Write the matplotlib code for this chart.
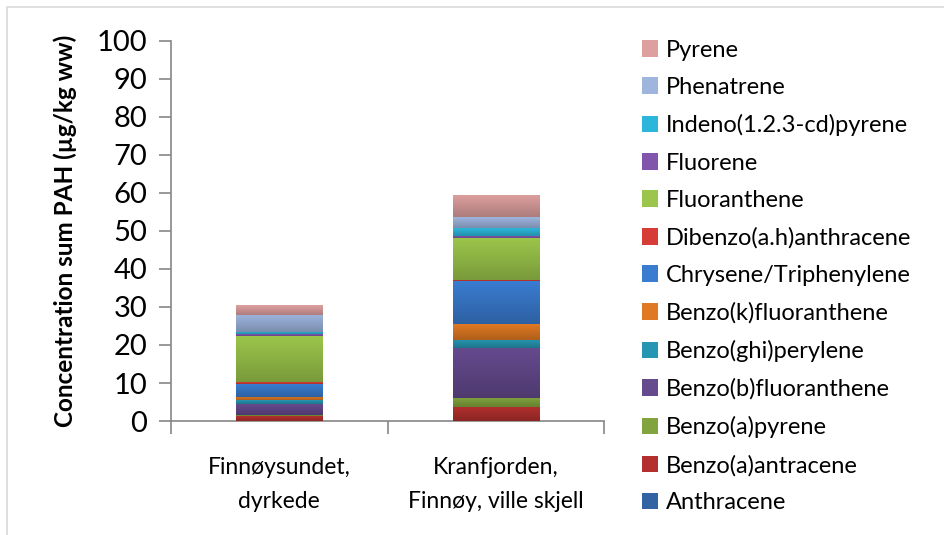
import matplotlib
matplotlib.use("Agg")
import matplotlib.pyplot as plt
import matplotlib.colors as mcolors
from matplotlib.patches import Rectangle, Patch
import numpy as np

plt.rcParams["font.family"] = ["Lato", "DejaVu Sans"]

# ===== DATA =====
categories = ["Finnøysundet,\ndyrkede", "Kranfjorden,\nFinnøy, ville skjell"]

compounds = [
    "Anthracene",
    "Benzo(a)antracene",
    "Benzo(a)pyrene",
    "Benzo(b)fluoranthene",
    "Benzo(ghi)perylene",
    "Benzo(k)fluoranthene",
    "Chrysene/Triphenylene",
    "Dibenzo(a.h)anthracene",
    "Fluoranthene",
    "Fluorene",
    "Indeno(1.2.3-cd)pyrene",
    "Phenatrene",
    "Pyrene",
]

# values per compound, [Finnøysundet, Kranfjorden]
anthracene = [0.0, 0.0]
benzo_a_antracene = [1.3, 3.7]
benzo_a_pyrene = [0.4, 2.4]
benzo_b_fluoranthene = [2.8, 13.0]
benzo_ghi_perylene = [1.05, 2.3]
benzo_k_fluoranthene = [0.9, 4.2]
chrysene = [3.4, 11.1]
dibenzo_ah_anthracene = [0.5, 0.35]
fluoranthene = [12.1, 11.1]
fluorene = [0.35, 0.5]
indeno = [0.7, 2.1]
phenatrene = [4.5, 2.8]
pyrene = [2.6, 5.9]

values = [
    anthracene, benzo_a_antracene, benzo_a_pyrene, benzo_b_fluoranthene,
    benzo_ghi_perylene, benzo_k_fluoranthene, chrysene, dibenzo_ah_anthracene,
    fluoranthene, fluorene, indeno, phenatrene, pyrene,
]

colors = [
    "#3263A3", "#B3302E", "#82A43E", "#654A8E", "#2796B2", "#E07923",
    "#3A7CD0", "#D63C38", "#9CC64B", "#8255AC", "#2DB6DB", "#9EB5DE", "#DEA09F",
]

# ===== PLOT =====
fig = plt.figure(figsize=(9.44, 5.35), dpi=100)
ax = fig.add_axes([0.181, 0.213, 0.459, 0.711])

# light chart border like the spreadsheet frame
fig.patches.append(Rectangle((7 / 944, -0.1), 1.2, 1 - 7 / 535 + 0.1,
                             transform=fig.transFigure, fill=False,
                             edgecolor="#D9D9D9", linewidth=1.2))

x = np.arange(len(categories))
bottom = np.zeros(len(categories))
width = 0.4

for vals, col in zip(values, colors):
    bars = ax.bar(x, vals, width, bottom=bottom, color=col, linewidth=0, zorder=2)
    # vertical gradient: lighter top, darker bottom
    rgb = np.array(mcolors.to_rgb(col))
    grad = np.linspace(0.0, 1.0, 64)[:, None]
    img = (rgb * 0.78)[None, None, :] * (1 - grad[..., None]) + rgb[None, None, :] * grad[..., None]
    for b in bars:
        if b.get_height() <= 0:
            continue
        x0, y0 = b.get_x(), b.get_y()
        im = ax.imshow(img, extent=(x0, x0 + b.get_width(), y0, y0 + b.get_height()),
                       origin="lower", aspect="auto", zorder=3, interpolation="bilinear")
        im.set_clip_path(b)
    bottom += np.array(vals)

ax.set_xlim(-0.5, len(categories) - 0.5)
ax.set_ylim(0, 100)
ax.set_yticks(np.arange(0, 101, 10))
ax.tick_params(axis="y", labelsize=21, length=9, width=1.2, color="#868686",
               pad=8, direction="out")
ax.set_xticks(x)
ax.set_xticklabels(categories, fontsize=16.5, linespacing=1.75)
ax.set_xticks(np.arange(-0.5, len(categories)), minor=True)
ax.tick_params(axis="x", which="major", length=0, pad=26)
ax.tick_params(axis="x", which="minor", length=9, width=1.2, color="#868686",
               direction="out")

for side in ["top", "right"]:
    ax.spines[side].set_visible(False)
for side in ["left", "bottom"]:
    ax.spines[side].set_color("#868686")
    ax.spines[side].set_linewidth(1.2)

ax.set_ylabel("Concentration sum PAH (µg/kg ww)", fontsize=17.5, fontweight="bold",
              labelpad=14)

handles = [Patch(facecolor=c, edgecolor="none") for c in colors]
leg = fig.legend(handles[::-1], compounds[::-1], loc="upper left",
                 bbox_to_anchor=(0.68, 0.926), frameon=False, fontsize=17,
                 handlelength=0.7, handleheight=0.7, handletextpad=0.3,
                 labelspacing=0.69, borderaxespad=0, borderpad=0)

fig.savefig("out.png", dpi=100)
